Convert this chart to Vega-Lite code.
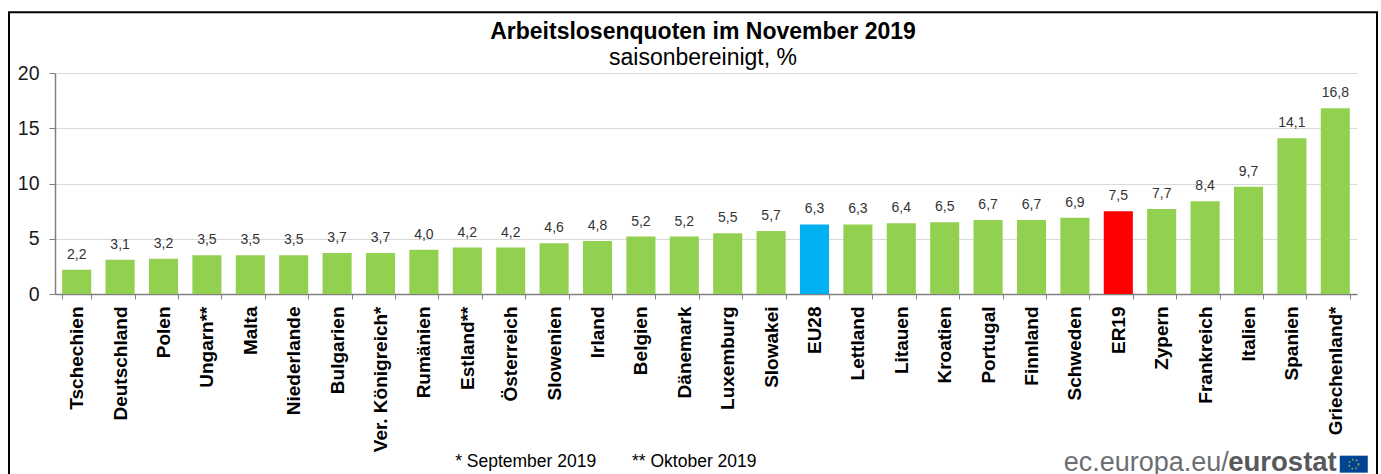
{"$schema":"https://vega.github.io/schema/vega-lite/v6.json","autosize":"none","width":1302,"height":221,"padding":{"left":55,"top":73,"right":24,"bottom":180},"background":"white","config":{"view":{"stroke":null},"font":"Liberation Sans"},"title":{"text":"Arbeitslosenquoten  im November 2019","subtitle":"saisonbereinigt, %","anchor":"middle","dx":-3,"font":"Liberation Sans","fontSize":23,"fontWeight":"bold","color":"#000000","subtitleFont":"Liberation Sans","subtitleFontSize":23,"subtitleColor":"#000000","subtitlePadding":3,"offset":-59},"datasets":{"d":[{"land":"Tschechien","wert":2.2,"txt":"2,2","gruppe":"Land"},{"land":"Deutschland","wert":3.1,"txt":"3,1","gruppe":"Land"},{"land":"Polen","wert":3.2,"txt":"3,2","gruppe":"Land"},{"land":"Ungarn**","wert":3.5,"txt":"3,5","gruppe":"Land"},{"land":"Malta","wert":3.5,"txt":"3,5","gruppe":"Land"},{"land":"Niederlande","wert":3.5,"txt":"3,5","gruppe":"Land"},{"land":"Bulgarien","wert":3.7,"txt":"3,7","gruppe":"Land"},{"land":"Ver. Königreich*","wert":3.7,"txt":"3,7","gruppe":"Land"},{"land":"Rumänien","wert":4.0,"txt":"4,0","gruppe":"Land"},{"land":"Estland**","wert":4.2,"txt":"4,2","gruppe":"Land"},{"land":"Österreich","wert":4.2,"txt":"4,2","gruppe":"Land"},{"land":"Slowenien","wert":4.6,"txt":"4,6","gruppe":"Land"},{"land":"Irland","wert":4.8,"txt":"4,8","gruppe":"Land"},{"land":"Belgien","wert":5.2,"txt":"5,2","gruppe":"Land"},{"land":"Dänemark","wert":5.2,"txt":"5,2","gruppe":"Land"},{"land":"Luxemburg","wert":5.5,"txt":"5,5","gruppe":"Land"},{"land":"Slowakei","wert":5.7,"txt":"5,7","gruppe":"Land"},{"land":"EU28","wert":6.3,"txt":"6,3","gruppe":"EU28"},{"land":"Lettland","wert":6.3,"txt":"6,3","gruppe":"Land"},{"land":"Litauen","wert":6.4,"txt":"6,4","gruppe":"Land"},{"land":"Kroatien","wert":6.5,"txt":"6,5","gruppe":"Land"},{"land":"Portugal","wert":6.7,"txt":"6,7","gruppe":"Land"},{"land":"Finnland","wert":6.7,"txt":"6,7","gruppe":"Land"},{"land":"Schweden","wert":6.9,"txt":"6,9","gruppe":"Land"},{"land":"ER19","wert":7.5,"txt":"7,5","gruppe":"ER19"},{"land":"Zypern","wert":7.7,"txt":"7,7","gruppe":"Land"},{"land":"Frankreich","wert":8.4,"txt":"8,4","gruppe":"Land"},{"land":"Italien","wert":9.7,"txt":"9,7","gruppe":"Land"},{"land":"Spanien","wert":14.1,"txt":"14,1","gruppe":"Land"},{"land":"Griechenland*","wert":16.8,"txt":"16,8","gruppe":"Land"}]},"layer":[{"data":{"values":[{"t":"frame"}]},"mark":{"type":"rect","fill":null,"stroke":"#000000","strokeWidth":2},"encoding":{"x":{"value":-46},"x2":{"value":1322},"y":{"datum":25.5,"type":"quantitative","scale":{"domain":[0,20],"nice":false},"axis":{"values":[0,5,10,15,20],"title":null,"labelFontSize":19.5,"labelColor":"#1a1a1a","labelPadding":10,"tickSize":6,"tickColor":"#808080","domainColor":"#808080","domainWidth":1.5,"gridColor":"#d9d9d9","gridWidth":1.2,"grid":true}},"y2":{"datum":-17}}},{"data":{"name":"d"},"mark":{"type":"bar"},"encoding":{"x":{"field":"land","type":"nominal","sort":null,"scale":{"paddingInner":0.33,"paddingOuter":0.165},"axis":{"title":null,"labelAngle":-90,"labelFontSize":19,"labelFontWeight":"bold","labelColor":"#000000","labelPadding":7,"labelLimit":200,"tickBand":"extent","tickSize":5,"tickColor":"#808080","domainColor":"#808080","domainWidth":1.5,"grid":false}},"y":{"field":"wert","type":"quantitative"},"color":{"field":"gruppe","type":"nominal","legend":null,"scale":{"domain":["Land","EU28","ER19"],"range":["#92D050","#00B0F0","#FF0000"]}}}},{"data":{"name":"d"},"mark":{"type":"text","fontSize":14,"color":"#333333","baseline":"bottom","dy":-8},"encoding":{"x":{"field":"land","type":"nominal","sort":null},"y":{"field":"wert","type":"quantitative"},"text":{"field":"txt"}}},{"data":{"values":[{"t":"*  September 2019"}]},"mark":{"type":"text","fontSize":17.5,"color":"#000000"},"encoding":{"x":{"datum":"Österreich","type":"nominal","sort":null},"xOffset":{"value":29.5},"y":{"datum":-15.2},"text":{"field":"t"}}},{"data":{"values":[{"t":"** Oktober 2019"}]},"mark":{"type":"text","fontSize":17.5,"color":"#000000"},"encoding":{"x":{"datum":"Dänemark","type":"nominal","sort":null},"xOffset":{"value":24.5},"y":{"datum":-15.2},"text":{"field":"t"}}},{"data":{"values":[{"t":"ec.europa.eu/"}]},"mark":{"type":"text","fontSize":27,"align":"right","color":"#6d6e71"},"encoding":{"x":{"datum":"Griechenland*","type":"nominal","sort":null},"xOffset":{"value":-92},"y":{"datum":-15.3},"text":{"field":"t"}}},{"data":{"values":[{"t":"eurostat"}]},"mark":{"type":"text","fontSize":27.5,"fontWeight":"bold","align":"right","color":"#58595b"},"encoding":{"x":{"datum":"Griechenland*","type":"nominal","sort":null},"xOffset":{"value":16},"y":{"datum":-15.3},"text":{"field":"t"}}},{"data":{"values":[{"t":"flag"}]},"mark":{"type":"rect","width":28,"height":17,"fill":"#004494"},"encoding":{"x":{"datum":"Griechenland*","type":"nominal","sort":null},"xOffset":{"value":33},"y":{"datum":-15.4}}},{"data":{"values":[{"t":"stars"}]},"mark":{"type":"point","size":90,"filled":false,"stroke":"#FFD617","strokeWidth":1.5,"strokeDash":[1.5,2.5]},"encoding":{"x":{"datum":"Griechenland*","type":"nominal","sort":null},"xOffset":{"value":33},"y":{"datum":-15.4}}}]}
